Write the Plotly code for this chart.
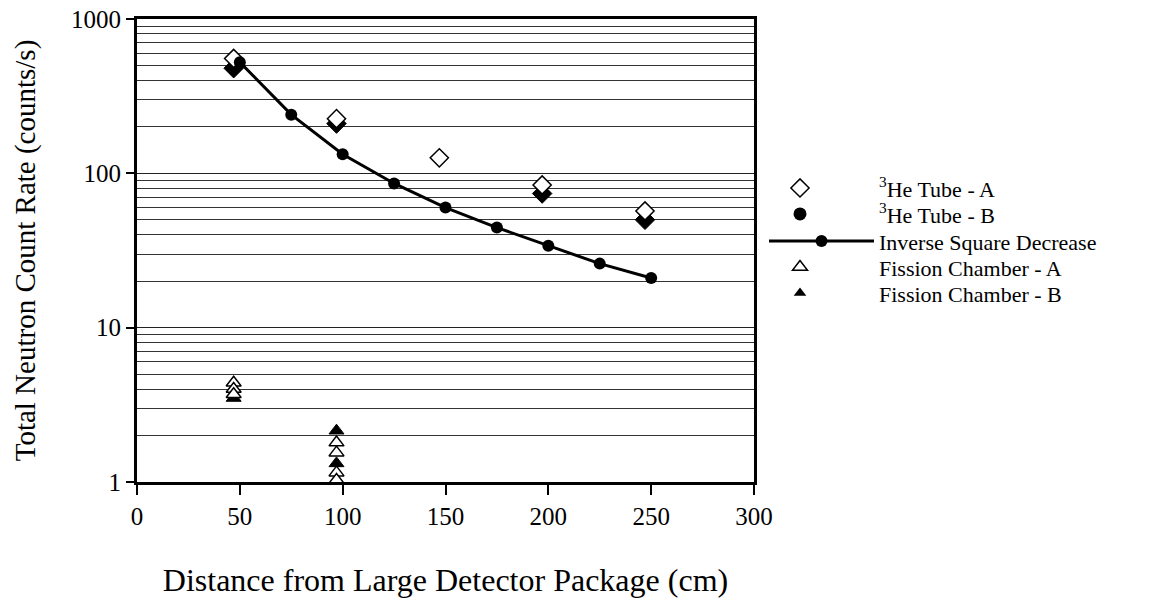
import plotly.graph_objects as go

# ---- data ----
he_a_x = [47, 97, 147, 197, 247]
he_a_y = [555, 226, 126, 84, 57]

he_b_x = [47, 97, 197, 247]
he_b_y = [480, 210, 74, 50]

inv_x = [50, 75, 100, 125, 150, 175, 200, 225, 250]
inv_y = [525, 240, 133, 86, 60, 44.5, 34, 26, 21]

fc_a_x = [47, 47, 47, 97, 97, 97, 97]
fc_a_y = [4.4, 4.0, 3.7, 1.8, 1.55, 1.15, 1.03]

fc_b_x = [47, 97, 97]
fc_b_y = [3.5, 2.15, 1.32]

x_ticks = [0, 50, 100, 150, 200, 250, 300]
y_ticks = [1, 10, 100, 1000]
y_minor = [m * d for d in (1, 10, 100) for m in range(2, 10)]

FONT = "Liberation Serif"
W, H = 1166, 601
ML, MT = 137, 19
PW, PH = 617, 462.6
MR, MB = W - ML - PW, H - MT - PH


def px_x(p):
    return (p - ML) / PW


def px_y(p):
    return 1 - (p - MT) / PH


fig = go.Figure()

fig.add_trace(go.Scatter(
    x=he_b_x, y=he_b_y, mode="markers", showlegend=False,
    marker=dict(symbol="diamond", size=15, color="black",
                line=dict(color="black", width=1))))
fig.add_trace(go.Scatter(
    x=he_a_x, y=he_a_y, mode="markers", name="<sup>3</sup>He Tube - A",
    legend="legend",
    marker=dict(symbol="diamond", size=14, color="white",
                line=dict(color="black", width=1.5))))
# key for tube B (drawn as a filled circle in the reference key)
fig.add_trace(go.Scatter(
    x=[None], y=[None], mode="markers", name="<sup>3</sup>He Tube - B",
    legend="legend2",
    marker=dict(symbol="circle", size=13, color="black")))
fig.add_trace(go.Scatter(
    x=inv_x, y=inv_y, mode="lines+markers", name="Inverse Square Decrease",
    legend="legend3",
    line=dict(color="black", width=3),
    marker=dict(symbol="circle", size=12, color="black")))
fig.add_trace(go.Scatter(
    x=fc_b_x, y=fc_b_y, mode="markers", showlegend=False,
    marker=dict(symbol="triangle-up", size=13, color="black",
                line=dict(color="black", width=1))))
fig.add_trace(go.Scatter(
    x=fc_a_x, y=fc_a_y, mode="markers", name="Fission Chamber - A",
    legend="legend4",
    marker=dict(symbol="triangle-up", size=13, color="white",
                line=dict(color="black", width=1.5))))
fig.add_trace(go.Scatter(
    x=[None], y=[None], mode="markers", name="Fission Chamber - B",
    legend="legend5",
    marker=dict(symbol="triangle-up", size=11, color="black")))

LEG_FONT = dict(family=FONT, size=22, color="black")


def leg(width, row_px):
    left = 869 - width
    return dict(x=px_x(left), y=px_y(row_px), xanchor="left",
                yanchor="middle", font=LEG_FONT, itemwidth=width,
                bgcolor="rgba(0,0,0,0)", borderwidth=0)


fig.update_layout(
    width=W, height=H,
    margin=dict(l=ML, r=MR, t=MT, b=MB, autoexpand=False),
    paper_bgcolor="white", plot_bgcolor="white",
    font=dict(family=FONT, color="black", size=25),
    legend=leg(148, 188),
    legend2=leg(148, 214),
    legend3=leg(105, 241),
    legend4=leg(148, 267),
    legend5=leg(148, 293),
    xaxis=dict(
        range=[0, 300], tickvals=x_ticks, ticks="outside", ticklen=10,
        tickwidth=2, tickcolor="black", showgrid=False, zeroline=False,
        showline=True, linewidth=3, linecolor="black", mirror=True,
        automargin=False, ticklabeloverflow="allow",
        tickfont=dict(family=FONT, size=25, color="black"),
        title=dict(text="Distance from Large Detector Package (cm)",
                   font=dict(family=FONT, size=32, color="black"),
                   standoff=40)),
    yaxis=dict(
        type="log", range=[0, 3], tickvals=y_ticks,
        ticktext=[str(v) for v in y_ticks],
        ticks="outside", ticklen=8, tickwidth=2, tickcolor="black",
        showgrid=True, gridcolor="#222222", gridwidth=1, zeroline=False,
        showline=True, linewidth=3, linecolor="black", mirror=True,
        automargin=False, ticklabeloverflow="allow",
        minor=dict(tickvals=y_minor, showgrid=True, gridcolor="#333333",
                   gridwidth=1, ticks=""),
        tickfont=dict(family=FONT, size=25, color="black"),
        title=dict(text="Total Neutron Count Rate (counts/s)",
                   font=dict(family=FONT, size=29, color="black"),
                   standoff=27)),
)

# remove the browser's default page margin so the figure sits at (0, 0)
fig.write_html("out.html",
               config={"displayModeBar": False},
               post_script="document.body.style.margin='0';")
